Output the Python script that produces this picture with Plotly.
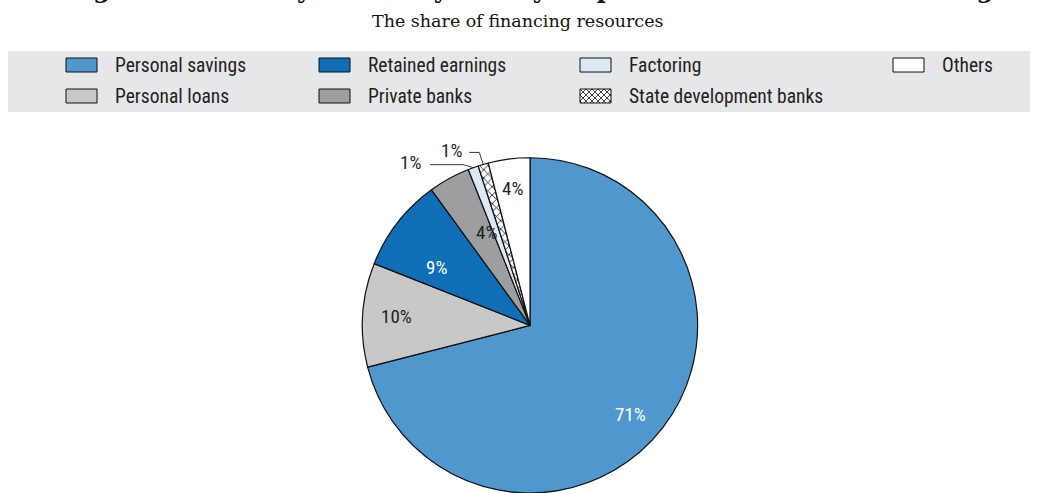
import math
import plotly.graph_objects as go

# --- data -------------------------------------------------------------
sources = ["Personal savings", "Personal loans", "Retained earnings",
           "Private banks", "Factoring", "State development banks", "Others"]
shares = [71, 10, 9, 4, 1, 1, 4]
slice_colors = ["#4f97cc", "#c8c8c9", "#106eb7", "#9d9ea0", "#dbe9f4", "#ffffff", "#ffffff"]
slice_patterns = ["", "", "", "", "", "x", ""]
label_colors = ["#ffffff", "#231f20", "#ffffff", "#231f20", "#231f20", "#231f20", "#231f20"]

# legend grid (row-major order of entries)
legend_rows = [["Personal savings", "Retained earnings", "Factoring", "Others"],
               ["Personal loans", "Private banks", "State development banks"]]

title_text = "Figure 4.1. Family firms rely mainly on personal sources of financing"
subtitle_text = "The share of financing resources"

# --- layout helpers ---------------------------------------------------
W, H = 1037, 493
SANS = "Liberation Sans Narrow, Roboto Condensed, Arial Narrow, Liberation Sans, sans-serif"
SERIF = "DejaVu Serif, Liberation Serif, serif"
INK = "#231f20"


def px(x):
    return x / W


def py(y):
    return 1 - y / H


pie_dom_x = [(530 - 170) / W, (530 + 170) / W]
pie_dom_y = [0.0, 0.68]
cx = (pie_dom_x[0] + pie_dom_x[1]) / 2 * W
R = min((pie_dom_x[1] - pie_dom_x[0]) * W, (pie_dom_y[1] - pie_dom_y[0]) * H) / 2
cy = H - (pie_dom_y[0] * H + R)

fig = go.Figure()
fig.add_trace(go.Pie(
    labels=sources, values=shares, sort=False, direction="clockwise", rotation=0,
    domain=dict(x=pie_dom_x, y=pie_dom_y),
    marker=dict(colors=slice_colors, line=dict(color="#111111", width=1.2),
                pattern=dict(shape=slice_patterns, fgcolor="#111111", size=6, solidity=0.25)),
    textinfo="none", hoverinfo="label+percent", showlegend=False,
))

annotations = []
shapes = []

# slice labels, placed along each slice's mid-angle (radius fraction + small pixel nudge)
inside_frac = [0.80, 0.80, 0.66, 0.62, None, None, 0.83]
label_nudge = [(-5, 7), (0, 0), (-6, 10), (7, -2), (0, 0), (0, 0), (0, 1)]
# leader lines: knee offset from the rim point, horizontal run, label offset from run end
outside_leader = {4: (-10, -3, -33, -20), 5: (-4, -12, -10, -18)}
total = sum(shares)
cum = 0
for i, v in enumerate(shares):
    mid = (cum + v / 2) / total * 2 * math.pi
    cum += v
    s, c = math.sin(mid), math.cos(mid)
    txt = f"{v}%"
    if inside_frac[i] is not None:
        r = inside_frac[i] * R
        nx, ny = label_nudge[i]
        annotations.append(dict(x=px(cx + r * s + nx), y=py(cy - r * c + ny),
                                xref="paper", yref="paper", xanchor="center", yanchor="middle",
                                text=txt, showarrow=False,
                                font=dict(family=SANS, size=19, color=label_colors[i])))
    else:
        kx, ky, hx, lx = outside_leader[i]
        ex, ey = cx + R * s, cy - R * c
        kxp, kyp = ex + kx, ey + ky
        hxp = kxp + hx
        shapes.append(dict(type="path", xref="paper", yref="paper",
                           path=f"M{px(ex)},{py(ey)} L{px(kxp)},{py(kyp)} L{px(hxp)},{py(kyp)}",
                           line=dict(color=INK, width=0.9)))
        annotations.append(dict(x=px(hxp + lx), y=py(kyp - 2), xref="paper", yref="paper",
                                xanchor="center", yanchor="middle",
                                text=txt, showarrow=False,
                                font=dict(family=SANS, size=19, color=INK)))

# legend band
band_top, band_bot = 51, 112
shapes.append(dict(type="rect", xref="paper", yref="paper", x0=px(8), x1=px(1030),
                   y0=py(band_bot), y1=py(band_top), fillcolor="#e6e7e9", line=dict(width=0),
                   layer="below"))

col_x = [66, 319, 580, 893]
row_y = [65, 96]
sw_w, sw_h = 31, 14


def clip_diag(x0, y0, x1, y1, c, slope):
    # segment of the line y = slope*x + c inside the rectangle
    pts = []
    for x in (x0, x1):
        y = slope * x + c
        if y0 <= y <= y1:
            pts.append((x, y))
    for y in (y0, y1):
        x = (y - c) / slope
        if x0 <= x <= x1:
            pts.append((x, y))
    pts = sorted(set((round(a, 3), round(b, 3)) for a, b in pts))
    return (pts[0], pts[-1]) if len(pts) >= 2 else None


color_of = dict(zip(sources, slice_colors))
pattern_of = dict(zip(sources, slice_patterns))
for r, row in enumerate(legend_rows):
    for ci, name in enumerate(row):
        x0 = col_x[ci]
        yc = row_y[r]
        y0, y1 = yc - sw_h / 2, yc + sw_h / 2
        shapes.append(dict(type="rect", xref="paper", yref="paper",
                           x0=px(x0), x1=px(x0 + sw_w), y0=py(y1), y1=py(y0),
                           fillcolor=color_of[name], line=dict(color="#111111", width=1)))
        if pattern_of[name] == "x":
            step = 6
            for slope in (1, -1):
                for k in range(-12, 14):
                    c = (y0 - slope * x0) + k * step
                    seg = clip_diag(x0, y0, x0 + sw_w, y1, c, slope)
                    if seg and abs(seg[0][0] - seg[1][0]) > 0.5:
                        (ax, ay), (bx, by) = seg
                        shapes.append(dict(type="line", xref="paper", yref="paper",
                                           x0=px(ax), y0=py(ay), x1=px(bx), y1=py(by),
                                           line=dict(color="#111111", width=0.8)))
        annotations.append(dict(x=px(x0 + 47), y=py(yc), xref="paper", yref="paper",
                                xanchor="left", yanchor="middle", text=name, showarrow=False,
                                font=dict(family=SANS, size=19.5, color=INK)))

# heading (sits mostly above the top edge of the page)
annotations.append(dict(x=px(530), y=py(6), xref="paper", yref="paper", xanchor="center",
                        yanchor="bottom", text=f"<b>{title_text}</b>", showarrow=False,
                        font=dict(family=SERIF, size=24, color="#111111")))
annotations.append(dict(x=px(518), y=py(21), xref="paper", yref="paper", xanchor="center",
                        yanchor="middle", text=subtitle_text, showarrow=False,
                        font=dict(family=SERIF, size=17.5, color="#111111")))

fig.update_layout(width=W, height=H, margin=dict(l=0, r=0, t=0, b=0),
                  paper_bgcolor="white", plot_bgcolor="white",
                  annotations=annotations, shapes=shapes)
fig.write_html("out.html")
